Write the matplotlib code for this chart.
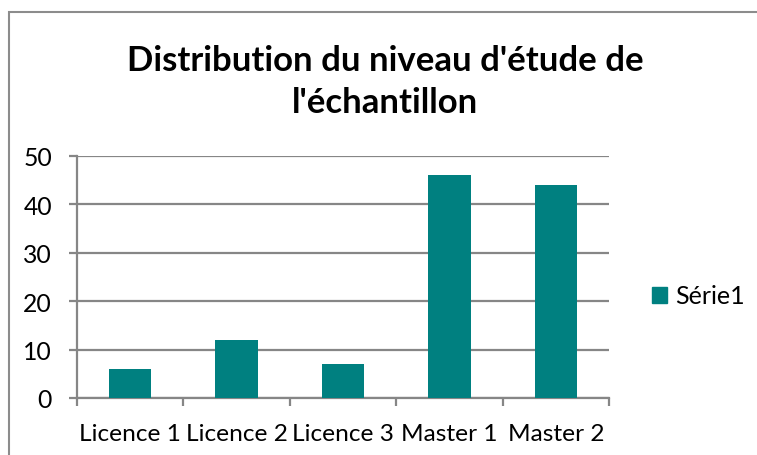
import matplotlib
matplotlib.use("Agg")
import matplotlib.pyplot as plt
from matplotlib.patches import Rectangle

categories = ["Licence 1", "Licence 2", "Licence 3", "Master 1", "Master 2"]
values = [6, 12, 7, 46, 44]
yticks = [0, 10, 20, 30, 40, 50]
series_name = "Série1"
title = "Distribution du niveau d'étude de\nl'échantillon"

W, H = 757, 456
fig = plt.figure(figsize=(W / 100, H / 100), dpi=100)
font = "Lato"

# chart border (partially cropped)
fig.patches.append(Rectangle((9 / W, -0.1), 2.0, (H - 13) / H + 0.1,
                             transform=fig.transFigure, fill=False,
                             edgecolor="#8c8c8c", linewidth=1.5))

ax = fig.add_axes([77 / W, (H - 399) / H, (609 - 77) / W, (399 - 157) / H])
grid_c = "#868686"
x = range(len(categories))
ax.bar(x, values, width=0.4, color="#008080", zorder=3)
ax.set_xlim(-0.5, len(categories) - 0.5)
ax.set_ylim(0, 50)
ax.set_yticks(yticks)
ax.set_yticklabels([str(v) for v in yticks], fontsize=17.8, family=font, color="black")
ax.set_xticks(list(x))
ax.set_xticklabels(categories, fontsize=17.6, family=font, color="black")
ax.yaxis.grid(True, color=grid_c, linewidth=1.6, zorder=0)
for s in ["top", "right"]:
    ax.spines[s].set_visible(False)
for s in ["left", "bottom"]:
    ax.spines[s].set_color(grid_c)
    ax.spines[s].set_linewidth(1.6)
ax.tick_params(axis="y", length=6, width=1.6, color=grid_c, pad=12)
ax.tick_params(axis="x", length=0, pad=18)
# category separator ticks on x axis
ax.set_xticks([i - 0.5 for i in range(len(categories) + 1)], minor=True)
ax.tick_params(axis="x", which="minor", length=6, width=1.6, color=grid_c)

fig.text(385 / W, 1 - 82 / H, title, ha="center", va="center", fontsize=25,
         fontweight="bold", family=font, linespacing=1.4)

leg = fig.legend([Rectangle((0, 0), 1, 1, color="#008080")], [series_name],
                 loc="center left", bbox_to_anchor=(629 / W, 1 - 297 / H),
                 frameon=False, prop={"family": font, "size": 18},
                 handlelength=0.6, handleheight=0.6, handletextpad=0.35)

fig.savefig("out.png", dpi=100)
